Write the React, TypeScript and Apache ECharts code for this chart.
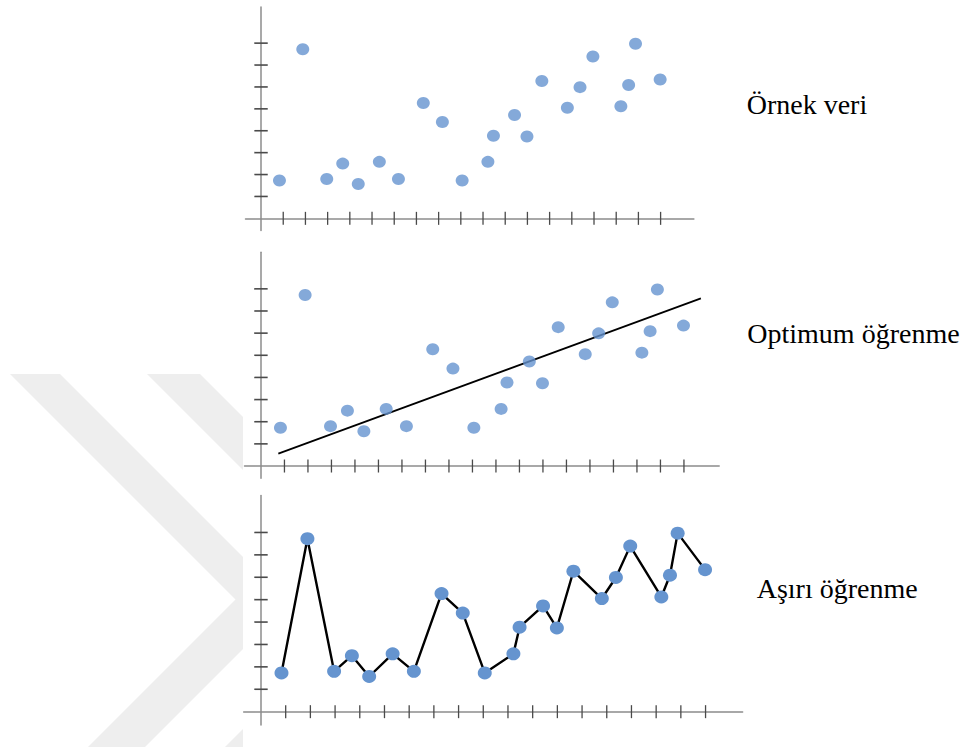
import React, { useEffect, useRef } from "react";
import * as echarts from "echarts";

// Shared sample data (same points in all three panels)
const sampleX = [0.83, 1.88, 2.96, 3.68, 4.38, 5.33, 6.19, 7.31, 8.17, 9.06, 10.22, 10.47, 11.42, 11.98, 12.65, 13.8, 14.37, 14.95, 16.21, 16.56, 16.87, 17.98];
const sampleY = [1.73, 7.72, 1.8, 2.5, 1.57, 2.58, 1.8, 5.27, 4.4, 1.73, 2.58, 3.77, 4.72, 3.74, 6.27, 5.05, 5.99, 7.39, 5.12, 6.09, 7.97, 6.34];

// Fitted line (optimum learning)
const fitX = [0.74, 18.72];
const fitY = [0.56, 7.57];

// Tick positions
const xTicks = [1, 2, 3, 4, 5, 6, 7, 8, 9, 10, 11, 12, 13, 14, 15, 16, 17, 18];
const yTicks = [1, 2, 3, 4, 5, 6, 7, 8];

// Panel titles
const panelTitles = ["Örnek veri", "Optimum öğrenme", "Aşırı öğrenme"];

const points = sampleX.map((x, i) => [x, sampleY[i]]);
const fitLine = fitX.map((x, i) => [x, fitY[i]]);

const DOT = "#6594cf";
const AXIS = "#8c8c8c";
const TICK = "#4a4a4a";

export default function App() {
  const ref = useRef<HTMLDivElement>(null);

  useEffect(() => {
    if (!ref.current) return;
    const chart = echarts.init(ref.current, null, { renderer: "svg" });

    const grids = [
      { left: 245.5, top: 7, width: 448.4, height: 223.4 },
      { left: 244.5, top: 252.3, width: 474.7, height: 225.9 },
      { left: 243.7, top: 495.5, width: 498.9, height: 229.6 },
    ];
    const yMins = [-0.55, -0.55, -0.6];

    const xAxes = grids.map((_, i) => ({
      type: "value",
      gridIndex: i,
      min: -0.7,
      max: 19.5,
      z: 5,
      axisLine: { show: true, onZero: true, lineStyle: { color: AXIS, width: 1.5 } },
      axisTick: { show: false },
      axisLabel: { show: false },
      splitLine: { show: false },
    }));
    const yAxes = grids.map((_, i) => ({
      type: "value",
      gridIndex: i,
      min: yMins[i],
      max: 9.65,
      z: 5,
      axisLine: { show: true, onZero: true, lineStyle: { color: AXIS, width: 1.5 } },
      axisTick: { show: false },
      axisLabel: { show: false },
      splitLine: { show: false },
    }));

    const tickSeries: any[] = [];
    grids.forEach((_, i) => {
      tickSeries.push({
        type: "custom",
        xAxisIndex: i,
        yAxisIndex: i,
        silent: true,
        z: 6,
        data: xTicks.map((t) => [t, 0]),
        renderItem: (params: any, api: any) => {
          const p = api.coord([api.value(0), api.value(1)]);
          return {
            type: "line",
            shape: { x1: p[0], y1: p[1] - 6.5, x2: p[0], y2: p[1] + 6.5 },
            style: { stroke: TICK, lineWidth: 1.3 },
          };
        },
      });
      tickSeries.push({
        type: "custom",
        xAxisIndex: i,
        yAxisIndex: i,
        silent: true,
        z: 6,
        data: yTicks.map((t) => [0, t]),
        renderItem: (params: any, api: any) => {
          const p = api.coord([api.value(0), api.value(1)]);
          return {
            type: "line",
            shape: { x1: p[0] - 6.7, y1: p[1], x2: p[0] + 6.7, y2: p[1] },
            style: { stroke: TICK, lineWidth: 1.6 },
          };
        },
      });
    });

    const gray = "#eeeeee";
    const watermark = [
      [[10, 374], [60, 374], [243, 557], [243, 649], [145, 747], [88, 747], [235.5, 599.5]],
      [[147, 374], [200, 374], [243, 417], [243, 470]],
      [[225, 747], [243, 729], [243, 747]],
    ].map((pts) => ({
      type: "polygon",
      z: -10,
      silent: true,
      shape: { points: pts },
      style: { fill: gray },
    }));

    const titlePos = [
      [746.7, 104],
      [747.3, 333],
      [756.7, 588],
    ];
    const titles = panelTitles.map((t, i) => ({
      type: "text",
      x: titlePos[i][0],
      y: titlePos[i][1],
      style: {
        text: t,
        fill: "#000",
        font: '28px "Liberation Serif", "Times New Roman", serif',
        fontFamily: '"Liberation Serif", "Times New Roman", serif',
        fontSize: 28,
        align: "left",
        verticalAlign: "middle",
      },
    }));

    chart.setOption({
      animation: false,
      backgroundColor: "#ffffff",
      grid: grids,
      xAxis: xAxes,
      yAxis: yAxes,
      graphic: [...watermark, ...titles],
      series: [
        ...tickSeries,
        {
          type: "scatter",
          xAxisIndex: 0,
          yAxisIndex: 0,
          data: points,
          symbol: "circle",
          symbolSize: [13, 12],
          itemStyle: { color: DOT },
          z: 10,
        },
        {
          type: "line",
          xAxisIndex: 1,
          yAxisIndex: 1,
          data: fitLine,
          showSymbol: false,
          symbol: "none",
          lineStyle: { color: "#000", width: 1.8 },
          z: 8,
        },
        {
          type: "scatter",
          xAxisIndex: 1,
          yAxisIndex: 1,
          data: points,
          symbol: "circle",
          symbolSize: [13, 12],
          itemStyle: { color: DOT },
          z: 10,
        },
        {
          type: "line",
          xAxisIndex: 2,
          yAxisIndex: 2,
          data: points,
          symbol: "circle",
          symbolSize: [14, 13],
          showSymbol: true,
          itemStyle: { color: DOT, borderWidth: 0 },
          lineStyle: { color: "#000", width: 2.4 },
          z: 10,
        },
      ],
    });

    return () => chart.dispose();
  }, []);

  return (
    <div
      ref={ref}
      style={{ position: "fixed", left: 0, top: 0, width: 968, height: 747 }}
    />
  );
}
